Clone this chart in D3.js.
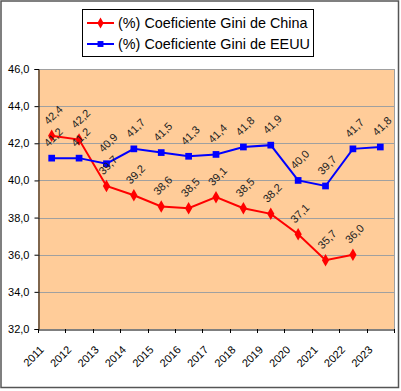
<!DOCTYPE html>
<html><head><meta charset="utf-8">
<script src="https://cdn.jsdelivr.net/npm/d3@7"></script>
<style>body{margin:0;background:#fff}svg{display:block;font-family:"Liberation Sans",Arial,sans-serif}</style>
</head><body>
<svg id="c" width="401" height="391"></svg>
<script>
const years = ["2011","2012","2013","2014","2015","2016","2017","2018","2019","2020","2021","2022","2023"];
const china = [42.4,42.2,39.7,39.2,38.6,38.5,39.1,38.5,38.2,37.1,35.7,36.0,null];
const usa = [41.2,41.2,40.9,41.7,41.5,41.3,41.4,41.8,41.9,40.0,39.7,41.7,41.8];
const yTicks = [32,34,36,38,40,42,44,46];
const seriesNames = ["(%) Coeficiente Gini de China","(%) Coeficiente Gini de EEUU"];

const svg = d3.select("#c");
const L=38,R=394,T=69,B=329;
const fmt = v => v.toFixed(1).replace(".",",");

svg.append("rect").attr("x",1).attr("y",1).attr("width",397.5).attr("height",386.5)
  .attr("fill","#fff").attr("stroke","#555").attr("stroke-width",1.5);

const x = d3.scaleBand().domain(years).range([L,R]);
const y = d3.scaleLinear().domain([32,46]).range([B,T]);

svg.append("rect").attr("x",L).attr("y",T).attr("width",R-L).attr("height",B-T).attr("fill","#FFCC99");
svg.append("g").selectAll("line").data(yTicks.slice(1)).join("line")
  .attr("x1",L).attr("x2",R).attr("y1",d=>Math.round(y(d))+0.5).attr("y2",d=>Math.round(y(d))+0.5)
  .attr("stroke","#A0A0A0").attr("stroke-width",1);
svg.append("line").attr("x1",R+0.5).attr("x2",R+0.5).attr("y1",T).attr("y2",B).attr("stroke","#A0A0A0");

// y axis
const ya = svg.append("g").attr("transform",`translate(${L+0.5},0)`)
  .call(d3.axisLeft(y).tickValues(yTicks).tickSize(4).tickPadding(5).tickFormat(fmt));
ya.select(".domain").attr("stroke","#000");
ya.selectAll(".tick line").attr("stroke","#000");
ya.selectAll("text").attr("font-size",11).attr("fill","#000").attr("font-family","Liberation Sans, Arial");

// x axis
const xa = svg.append("g").attr("transform",`translate(0,${B+0.5})`)
  .call(d3.axisBottom(x).tickSize(0).tickFormat(d=>d));
xa.select(".domain").attr("stroke","#000");
xa.selectAll(".tick text").attr("font-size",11).attr("fill","#000").attr("font-family","Liberation Sans, Arial")
  .attr("text-anchor","end").attr("dy",0).attr("y",0)
  .attr("transform",`translate(-7,21) rotate(-45)`);
const bounds = years.map(d=>x(d)).concat([x(years[years.length-1])+x.bandwidth()]);
svg.append("g").selectAll("line").data(bounds).join("line")
  .attr("x1",d=>Math.round(d)+0.5).attr("x2",d=>Math.round(d)+0.5).attr("y1",B).attr("y2",B+4).attr("stroke","#000");

const cx = i => x(years[i]) + x.bandwidth()/2;
function drawSeries(vals,color,sym,size){
  const pts = vals.map((v,i)=>({v,i})).filter(d=>d.v!==null);
  svg.append("path").datum(pts).attr("fill","none").attr("stroke",color).attr("stroke-width",2)
    .attr("d",d3.line().x(d=>cx(d.i)).y(d=>y(d.v)));
  svg.append("g").selectAll("path").data(pts).join("path")
    .attr("d",d3.symbol(sym,size)).attr("fill",color)
    .attr("transform",d=>`translate(${cx(d.i)},${y(d.v)})`);
  return pts;
}
const cp = drawSeries(china,"#FF0000",d3.symbolDiamond,45);
const up = drawSeries(usa,"#0000FF",d3.symbolSquare,45);
function labels(pts){
  svg.append("g").selectAll("text").data(pts).join("text")
    .attr("transform",d=>`translate(${cx(d.i)+1.5},${y(d.v)-21}) rotate(-45)`)
    .attr("text-anchor","middle").attr("dominant-baseline","central")
    .attr("font-size",11).attr("fill","#222").text(d=>fmt(d.v));
}
labels(cp); labels(up);

// legend
const lg = svg.append("g");
lg.append("rect").attr("x",82.5).attr("y",9.5).attr("width",231).attr("height",47).attr("fill","#fff").attr("stroke","#000");
const legItems = [{n:seriesNames[0],c:"#FF0000",s:d3.symbolDiamond,y:23},{n:seriesNames[1],c:"#0000FF",s:d3.symbolSquare,y:44}];
legItems.forEach(it=>{
  lg.append("line").attr("x1",87).attr("x2",114).attr("y1",it.y).attr("y2",it.y).attr("stroke",it.c).attr("stroke-width",2);
  lg.append("path").attr("d",d3.symbol(it.s,35)).attr("fill",it.c).attr("transform",`translate(100.5,${it.y})`);
  lg.append("text").attr("x",118).attr("y",it.y).attr("dominant-baseline","central")
    .attr("font-size",14.4).attr("fill","#000").text(it.n);
});
</script>
</body></html>
